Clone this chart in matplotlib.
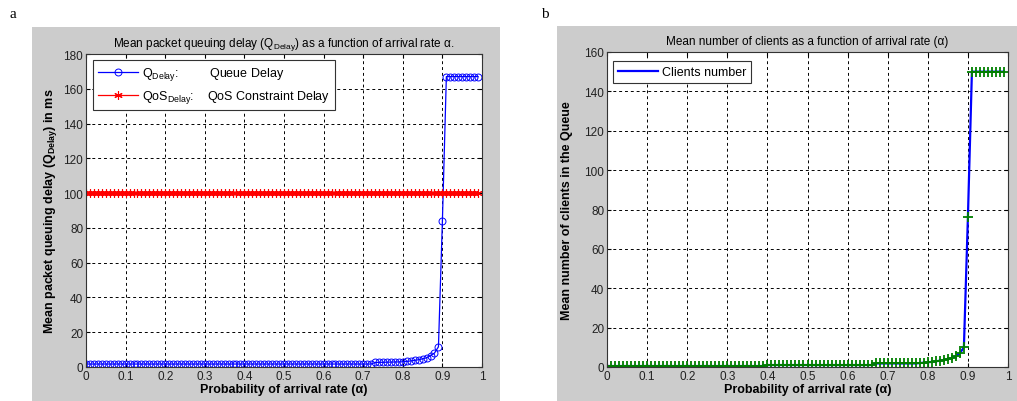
import numpy as np
import matplotlib
matplotlib.use("Agg")
import matplotlib.pyplot as plt
from matplotlib.patches import Rectangle

plt.rcParams['font.family'] = ['Liberation Sans', 'DejaVu Sans']
plt.rcParams['mathtext.fontset'] = 'custom'
plt.rcParams['mathtext.rm'] = 'Liberation Sans'
plt.rcParams['mathtext.it'] = 'Liberation Sans:italic'
plt.rcParams['mathtext.bf'] = 'Liberation Sans:bold'

# arrival rate alpha, 0.00 .. 0.99
alpha = [i / 100 for i in range(100)]

# (a) mean packet queuing delay in ms
queue_delay = ([1.7] * 73 +
               [2.6, 2.7, 2.7, 2.8, 2.8, 2.9, 2.9,
                3.0, 3.2, 3.5, 3.8, 4.2, 4.7, 5.3, 6.5, 8.0, 11.6,
                84.0] +
               [167.0] * 9)
qos_delay = [100.0] * 100

# (b) mean number of clients in the queue
clients = ([0.5] * 40 +
           [1.0] * 27 +
           [1.8] * 11 +
           [2.0, 2.2, 2.4, 2.6, 2.9, 3.2, 3.6, 4.0, 4.6, 5.5, 7.0, 10.0,
            76.0] +
           [150.0] * 9)

W, H = 1017, 402
fig = plt.figure(figsize=(W / 100, H / 100), dpi=100)
fig.patch.set_facecolor('white')

# gray matlab figure panels
fig.add_artist(Rectangle((32 / W, 0), 468 / W, 374 / H, transform=fig.transFigure,
                         facecolor='#cccccc', edgecolor='none', zorder=0))
fig.add_artist(Rectangle((557 / W, 0), 460 / W, 375 / H, transform=fig.transFigure,
                         facecolor='#cccccc', edgecolor='none', zorder=0))

fig.text(10 / W, 1 - 15 / H, 'a', family='Liberation Serif', fontsize=11, va='center')
fig.text(541 / W, 1 - 15 / H, 'b', family='Liberation Serif', fontsize=11, va='center')

ax1 = fig.add_axes([86 / W, 34 / H, 396 / W, 313 / H])
ax2 = fig.add_axes([607 / W, 34 / H, 401 / W, 315 / H])


def style(ax, ymax, ystep):
    ax.set_facecolor('white')
    ax.set_xlim(0, 1)
    ax.set_ylim(0, ymax)
    ax.set_xticks(np.arange(0, 1.01, 0.1))
    ax.set_xticklabels(['0'] + ['%.1f' % v for v in np.arange(0.1, 0.95, 0.1)] + ['1'])
    ax.set_yticks(np.arange(0, ymax + 1, ystep))
    ax.grid(True, color='black', linestyle=(0, (3, 3)), linewidth=0.7)
    ax.tick_params(direction='in', length=3, labelsize=8.5, colors='black',
                   labelcolor='#222222', top=True, right=True, pad=2)
    for s in ax.spines.values():
        s.set_linewidth(0.8)
        s.set_color('#333333')


# panel a
style(ax1, 180, 20)
ax1.plot(alpha, queue_delay, color='blue', lw=0.9, marker='o', ms=5,
         mfc='none', mec='blue', mew=0.7,
         label='Q$_{\\mathrm{Delay}}$:' + ' ' * 9 + 'Queue Delay')
ax1.plot(alpha, qos_delay, color='red', lw=0.9, marker=(6, 2, 0), ms=6,
         mec='red', mew=0.8,
         label='QoS$_{\\mathrm{Delay}}$:' + ' ' * 4 + 'QoS Constraint Delay')
ax1.set_title('Mean packet queuing delay (Q$_{\\mathrm{Delay}}$) as a function of arrival rate \u03b1.',
              fontsize=8.5, pad=6)
ax1.set_xlabel('Probability of arrival rate (\u03b1)', fontsize=9, fontweight='bold', labelpad=1)
ax1.set_ylabel('Mean packet queuing delay (Q$_{\\mathbf{Delay}}$) in ms', fontsize=9,
               fontweight='bold', labelpad=3)
leg1 = ax1.legend(loc='upper left', bbox_to_anchor=(7 / 396, 1 - 6 / 313), borderaxespad=0,
                  fontsize=9, handlelength=3.2, handletextpad=0.3, fancybox=False,
                  framealpha=1, edgecolor='#333333', borderpad=0.4, labelspacing=0.5)
leg1.get_frame().set_linewidth(0.8)

# panel b
style(ax2, 160, 20)
ax2.plot(alpha, clients, color='blue', lw=1.6, label='Clients number')
ax2.plot(alpha, clients, linestyle='none', marker='+', ms=7, mew=1.3, color='#007f00')
ax2.set_title('Mean number of clients as a function of arrival rate (\u03b1)', fontsize=8.5, pad=6)
ax2.set_xlabel('Probability of arrival rate (\u03b1)', fontsize=9, fontweight='bold', labelpad=1)
ax2.set_ylabel('Mean number of clients in the Queue', fontsize=9, fontweight='bold', labelpad=8)
leg2 = ax2.legend(loc='upper left', bbox_to_anchor=(6 / 401, 1 - 9 / 315), borderaxespad=0,
                  fontsize=9, handlelength=3.2, handletextpad=0.3, fancybox=False,
                  framealpha=1, edgecolor='#333333', borderpad=0.4)
leg2.get_frame().set_linewidth(0.8)

fig.savefig('out.png', dpi=100)
